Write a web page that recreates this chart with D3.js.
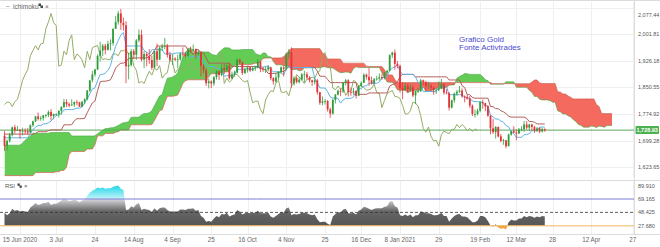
<!DOCTYPE html>
<html lang="en">
<head>
<meta charset="UTF-8">
<title>Grafico Gold - Ichimoku / RSI</title>
<script src="https://d3js.org/d3.v7.min.js"></script>
<style>
  body { margin: 0; background: #fff; }
  svg { display: block; font-family: "Liberation Sans", Arial, sans-serif; }
</style>
</head>
<body>
<svg width="660" height="247"></svg>
<script>
// daily candles, bar 0 = 5 Jun 2020
const open = [
  1713,1684,1698,1715,1737,1728,1730,1726,1727,1726,
  1722,1743,1754,1768,1761,1763,1771,1772,1781,1769,
  1775,1775,1784,1795,1809,1803,1799,1802,1809,1808,
  1796,1810,1817,1842,1871,1888,1902,1941,1956,1970,
  1958,1975,1977,2018,2038,2062,2035,2028,1911,1915,
  1954,1944,1985,2001,1930,1946,1940,1929,1907,1954,
  1930,1964,1968,1970,1944,1930,1933,1930,1931,1947,
  1946,1941,1956,1955,1960,1945,1950,1912,1900,1863,
  1868,1862,1880,1897,1886,1906,1900,1913,1877,1888,
  1893,1930,1922,1892,1902,1908,1899,1905,1907,1924,
  1904,1902,1902,1908,1877,1868,1879,1895,1908,1904,
  1947,1951,1862,1877,1866,1873,1888,1888,1879,1871,
  1866,1871,1837,1807,1811,1812,1788,1776,1815,1830,
  1841,1839,1864,1871,1838,1836,1840,1827,1855,1864,
  1887,1881,1871,1862,1874,1876,1880,1877,1893,1898,
  1943,1950,1918,1912,1849,1844,1855,1845,1851,1828,
  1840,1840,1871,1866,1855,1856,1850,1843,1844,1848,
  1860,1836,1834,1793,1814,1833,1838,1842,1825,1824,
  1819,1799,1775,1775,1784,1809,1806,1797,1770,1734,
  1723,1738,1711,1698,1700,1683,1716,1726,1722,1719,
  1731,1731,1745,1736,1745,1738,1727,1734,1725,1732
];
const high = [
  1727,1702,1721,1739,1744,1741,1732,1736,1734,1735,
  1745,1756,1769,1779,1769,1772,1775,1785,1789,1776,
  1777,1785,1797,1818,1817,1808,1817,1811,1815,1810,
  1812,1820,1843,1871,1898,1904,1945,1981,1975,1975,
  1984,1988,2019,2055,2069,2075,2050,2040,1950,1960,
  1960,1989,2016,2015,1954,1951,1960,1941,1955,1976,
  1968,1975,1992,1975,1952,1946,1937,1944,1951,1965,
  1952,1964,1967,1973,1962,1959,1955,1918,1906,1875,
  1871,1883,1900,1899,1917,1918,1920,1921,1896,1899,
  1933,1933,1925,1907,1913,1912,1912,1913,1932,1926,
  1909,1910,1914,1910,1880,1891,1897,1911,1911,1950,
  1960,1965,1883,1882,1880,1892,1898,1895,1883,1873,
  1877,1875,1838,1825,1818,1815,1793,1819,1832,1845,
  1848,1866,1875,1874,1850,1849,1843,1857,1868,1891,
  1890,1906,1882,1878,1884,1891,1889,1895,1901,1945,
  1953,1959,1926,1916,1865,1863,1862,1860,1856,1840,
  1850,1875,1873,1870,1867,1861,1854,1849,1868,1875,
  1861,1846,1837,1816,1836,1844,1855,1848,1828,1830,
  1826,1802,1787,1790,1811,1816,1807,1800,1771,1761,
  1740,1739,1718,1704,1700,1719,1727,1740,1731,1735,
  1740,1755,1755,1747,1747,1741,1738,1737,1735,1734
];
const low = [
  1670,1671,1693,1711,1719,1726,1705,1714,1717,1715,
  1720,1738,1752,1756,1756,1756,1765,1766,1757,1760,
  1770,1765,1773,1792,1795,1794,1799,1795,1800,1795,
  1795,1803,1814,1838,1865,1882,1900,1925,1940,1945,
  1956,1956,1970,2018,2030,2015,2013,1863,1874,1910,
  1932,1930,1980,1925,1906,1911,1918,1901,1905,1911,
  1929,1955,1960,1936,1925,1915,1926,1906,1927,1939,
  1936,1939,1950,1951,1933,1941,1882,1891,1855,1848,
  1849,1855,1873,1872,1883,1889,1896,1873,1874,1881,
  1891,1918,1886,1889,1893,1895,1897,1898,1905,1894,
  1895,1892,1897,1871,1859,1864,1872,1890,1882,1899,
  1933,1850,1856,1862,1862,1871,1865,1873,1865,1855,
  1859,1830,1801,1800,1802,1782,1764,1773,1805,1828,
  1826,1835,1856,1825,1827,1830,1819,1826,1851,1863,
  1873,1855,1859,1860,1870,1870,1872,1874,1888,1897,
  1935,1901,1905,1836,1817,1843,1836,1838,1823,1803,
  1835,1838,1858,1841,1846,1840,1830,1832,1840,1846,
  1830,1831,1785,1791,1807,1827,1835,1821,1808,1816,
  1792,1769,1765,1771,1780,1790,1783,1767,1717,1718,
  1705,1708,1694,1687,1677,1683,1713,1720,1700,1719,
  1726,1724,1730,1727,1728,1721,1723,1720,1722,1724
];
const close = [
  1684,1698,1715,1737,1728,1730,1726,1727,1726,1722,
  1743,1754,1768,1761,1763,1771,1772,1781,1769,1775,
  1775,1784,1795,1809,1803,1799,1802,1809,1808,1796,
  1810,1817,1842,1871,1888,1902,1941,1956,1970,1958,
  1975,1977,2018,2038,2062,2035,2028,1911,1915,1954,
  1944,1985,2001,1930,1946,1940,1929,1907,1954,1930,
  1964,1968,1970,1944,1930,1933,1930,1931,1947,1946,
  1941,1956,1955,1960,1945,1950,1912,1900,1863,1868,
  1862,1880,1897,1886,1906,1900,1913,1877,1888,1893,
  1930,1922,1892,1902,1908,1899,1905,1907,1924,1904,
  1902,1902,1908,1877,1868,1879,1895,1908,1904,1947,
  1951,1862,1877,1866,1873,1888,1888,1879,1871,1866,
  1871,1837,1807,1811,1812,1788,1776,1815,1830,1841,
  1839,1864,1871,1838,1836,1840,1827,1855,1864,1887,
  1881,1871,1862,1874,1876,1880,1877,1893,1898,1943,
  1950,1918,1912,1849,1844,1855,1845,1851,1828,1840,
  1840,1871,1866,1855,1856,1850,1843,1844,1848,1860,
  1836,1834,1793,1814,1833,1838,1842,1825,1824,1819,
  1799,1775,1775,1784,1809,1806,1797,1770,1734,1723,
  1738,1711,1698,1700,1683,1716,1726,1722,1719,1731,
  1731,1745,1736,1745,1738,1727,1734,1725,1732,1728.93
];

// conversion line (blue) and base line (brown), one value per candle
const tenkan = [
  1707,1707,1707,1707,1707,1707,1707,1707,1707,1707.5,
  1719,1730.5,1737,1742,1742,1746.5,1747,1750,1754.5,1763.5,
  1770.5,1772.5,1776.5,1787,1787.5,1787.5,1787.5,1789,1791.5,1791.5,
  1795.5,1806,1818.5,1832.5,1846.5,1849.5,1870,1888,1888,1892,
  1899,1913,1942,1968.5,1984.5,2000,2007.5,1969,1969,1969,
  1969,1969,1969,1969,1956.5,1951.5,1945,1958.5,1958.5,1958.5,
  1958.5,1958,1946.5,1946.5,1946.5,1946.5,1948.5,1949,1949,1949,
  1949,1940.5,1936.5,1939.5,1939.5,1939.5,1927.5,1927.5,1914,1910.5,
  1910.5,1910.5,1905,1903.5,1901.5,1883,1884,1884.5,1885,1888,
  1902.5,1902.5,1903,1903,1903,1903,1903.5,1907,1909.5,1909.5,
  1909,1910.5,1912,1901.5,1895.5,1895.5,1895.5,1892.5,1886.5,1904.5,
  1909.5,1907.5,1907.5,1907.5,1907.5,1907.5,1907.5,1907.5,1907.5,1907.5,
  1876.5,1864,1849.5,1849,1849,1838.5,1823.5,1820.5,1820.5,1819.5,
  1806,1815,1819.5,1819.5,1819.5,1824,1840,1847,1847,1855,
  1855,1862.5,1862.5,1862.5,1862.5,1866,1878.5,1880.5,1880.5,1900,
  1906,1909.5,1914.5,1897.5,1888,1888,1888,1888,1888,1881,
  1864.5,1859.5,1839,1839,1839,1839,1839,1839,1852.5,1852.5,
  1852.5,1852.5,1830,1830,1830,1830,1830,1830,1823,1820,
  1820,1812,1810,1810,1810,1806.5,1797.5,1797.5,1771.5,1766.5,
  1760.5,1760.5,1755,1751.5,1742,1738.5,1724,1719,1708.5,1708.5,
  1708.5,1716,1716,1719,1727.5,1727.5,1727.5,1737,1737.5,1737.5
];
const kijun = [
  1717.5,1717.5,1717.5,1717.5,1717.5,1717.5,1717.5,1717.5,1717.5,1717.5,
  1717.5,1717.5,1719.5,1724.5,1724.5,1724.5,1724.5,1727.5,1729.5,1729.5,
  1729.5,1729.5,1729.5,1744,1744,1744,1744.5,1755.5,1761.5,1761.5,
  1761.5,1762.5,1778.5,1793,1806.5,1812,1841.5,1866.5,1868.5,1868.5,
  1870,1872.5,1888,1906,1914.5,1920,1920,1924,1933.5,1934.5,
  1934.5,1935,1935,1935,1935,1935,1939,1944.5,1956.5,1969,
  1969,1969,1969,1969,1969,1969,1969,1969,1969,1969,
  1969,1956.5,1951.5,1945,1958.5,1958.5,1949,1949,1935,1920,
  1920,1920,1920,1920,1920,1920,1920,1920,1911.5,1910.5,
  1910.5,1910.5,1910.5,1910.5,1910.5,1910.5,1910.5,1910.5,1910.5,1905,
  1903.5,1901.5,1890.5,1890.5,1890.5,1891,1894,1896,1896,1904.5,
  1909.5,1907.5,1907.5,1907.5,1907.5,1907.5,1907.5,1907.5,1907.5,1907.5,
  1907.5,1897.5,1883,1882.5,1882.5,1873.5,1864.5,1864.5,1864.5,1864.5,
  1864.5,1864.5,1864.5,1864.5,1864.5,1864.5,1864.5,1831,1831,1831,
  1831,1835,1835,1835,1835,1835,1835,1835,1835,1854.5,
  1858.5,1861.5,1866,1882,1888,1888,1888,1888,1888,1881,
  1881,1881,1881,1881,1881,1881,1881,1881,1881,1881,
  1881,1881,1872,1872,1872,1872,1872,1855.5,1850.5,1830,
  1830,1822,1820,1820,1820,1820,1820,1820,1796,1796,
  1790,1790,1784.5,1781,1776,1769,1766,1766,1766,1766,
  1766,1766,1762.5,1753.5,1753.5,1751.5,1746.5,1746.5,1746.5,1746.5
];

// leading spans, already displaced 26 bars forward (bar 0..235)
const spanA = [
  1686,1686,1686,1686,1686,1686,1686,1692,1700,1706,
  1712,1720,1720,1720,1720,1720,1720,1720,1722,1722,
  1722,1722,1722,1722,1722,1722,1712.25,1712.25,1712.25,1712.25,
  1712.25,1712.25,1712.25,1712.25,1712.25,1712.5,1718.25,1724,1728.25,1733.25,
  1733.25,1735.5,1735.75,1738.75,1742,1746.5,1750,1751,1753,1765.5,
  1765.75,1765.75,1766,1772.25,1776.5,1776.5,1778.5,1784.25,1798.5,1812.75,
  1826.5,1830.75,1855.75,1877.25,1878.25,1880.25,1884.5,1892.75,1915,1937.25,
  1949.5,1960,1963.75,1946.5,1951.25,1951.75,1951.75,1952,1952,1952,
  1945.75,1943.25,1942,1951.5,1957.5,1963.75,1963.75,1963.5,1957.75,1957.75,
  1957.75,1957.75,1958.75,1959,1959,1959,1959,1948.5,1944,1942.25,
  1949,1949,1938.25,1938.25,1924.5,1915.25,1915.25,1915.25,1912.5,1911.75,
  1910.75,1901.5,1902,1902.25,1898.25,1899.25,1906.5,1906.5,1906.75,1906.75,
  1906.75,1906.75,1907,1908.75,1910,1907.25,1906.25,1906,1901.25,1896,
  1893,1893.25,1894.75,1894.25,1891.25,1904.5,1909.5,1907.5,1907.5,1907.5,
  1907.5,1907.5,1907.5,1907.5,1907.5,1907.5,1892,1880.75,1866.25,1865.75,
  1865.75,1856,1844,1842.5,1842.5,1842,1835.25,1839.75,1842,1842,
  1842,1844.25,1852.25,1839,1839,1843,1843,1848.75,1848.75,1848.75,
  1848.75,1850.5,1856.75,1857.75,1857.75,1877.25,1882.25,1885.5,1890.25,1889.75,
  1888,1888,1888,1888,1888,1881,1872.75,1870.25,1860,1860,
  1860,1860,1860,1860,1866.75,1866.75,1866.75,1866.75,1851,1851,
  1851,1851,1851,1842.75,1836.75,1825,1825,1817,1815,1815,
  1815,1813.25,1808.75,1808.75,1783.75,1781.25,1775.25,1775.25,1769.75,1766.25,
  1759,1753.75,1745,1742.5,1737.25,1737.25,1737.25,1741,1739.25,1736.25,
  1740.5,1739.5,1737,1741.75,1742,1742
];
const spanB = [
  1599,1599,1599,1599,1599,1599,1599,1599,1599,1599,
  1599,1599,1608,1608,1608,1608,1608,1608,1608,1608,
  1610,1610,1614,1614,1623.5,1659,1668,1668,1668,1668,
  1668,1668,1675,1675,1675,1688,1712.5,1712.5,1712.5,1719.5,
  1719.5,1719.5,1719.5,1722.5,1724.5,1729.5,1729.5,1729.5,1729.5,1744,
  1744,1744,1744,1744,1744,1744,1744,1745,1756.5,1770.5,
  1784,1787,1807.5,1825.5,1825.5,1825.5,1827,1829,1844.5,1862.5,
  1869.5,1872.5,1872.5,1872.5,1872.5,1872.5,1872.5,1872.5,1873,1884,
  1890,1890,1890,1890,1894.5,1895,1895,1897.5,1906.5,1913.5,
  1915.5,1915.5,1915.5,1916,1916,1916,1917.5,1920,1920,1924,
  1933.5,1934.5,1934.5,1935,1935,1935,1935,1935,1939,1944.5,
  1956.5,1961.5,1961.5,1961.5,1961.5,1961.5,1961.5,1961.5,1961.5,1961.5,
  1961.5,1961.5,1961.5,1949,1944,1932,1932,1932,1932,1932,
  1931.5,1920,1920,1920,1920,1920,1920,1920,1920,1920,
  1911.5,1910.5,1910.5,1910.5,1910.5,1910.5,1910.5,1901.5,1887,1886.5,
  1886.5,1873.5,1864.5,1864.5,1864.5,1864.5,1864.5,1864.5,1864.5,1864.5,
  1864.5,1864.5,1864.5,1864.5,1864.5,1864.5,1864.5,1864.5,1864.5,1864.5,
  1864.5,1864.5,1864.5,1864.5,1864.5,1864.5,1864.5,1864.5,1864.5,1864.5,
  1864.5,1864.5,1864.5,1864.5,1864.5,1864.5,1864.5,1864.5,1864.5,1861.5,
  1861.5,1861.5,1861.5,1861.5,1861.5,1861.5,1861.5,1861.5,1861.5,1861.5,
  1861.5,1861.5,1861.5,1861.5,1866,1872,1872,1864,1862,1862,
  1862,1862,1862,1862,1838,1838,1832,1832,1826.5,1823,
  1818,1818,1818,1818,1818,1818,1818,1818,1818,1801.5,
  1796.5,1776,1776,1776,1776,1776
];

const rsi = [
  48,44,47,54,51,52,50,51,50,49,
  56,59,63,60,61,63,63,65,60,62,
  62,64,67,70,68,66,67,68,67,64,
  67,68,74,79,82,84,87,86,87,85,
  86,86,88,89,90,85,83,52,53,58,
  56,61,63,52,54,53,52,49,55,51,
  55,56,56,52,50,50,50,50,53,53,
  52,54,54,55,51,52,43,40,34,35,
  34,39,43,41,46,45,48,42,44,45,
  52,50,45,47,48,47,48,48,51,47,
  47,47,48,42,40,43,46,49,48,55,
  56,44,46,45,46,48,48,47,45,44,
  45,38,33,34,34,31,29,42,46,49,
  48,53,54,47,47,48,45,51,53,57,
  56,54,52,54,55,55,55,57,58,65,
  66,58,56,44,43,45,43,45,41,44,
  44,50,49,47,47,46,44,44,45,48,
  43,43,34,39,43,45,46,42,42,41,
  37,33,33,36,43,43,41,35,28,26,
  30,25,23,24,22,33,37,36,36,39,
  39,43,41,43,42,40,42,41,43,42
];

const dateTicks  = [6, 20, 35, 50, 65, 80, 94, 109, 124, 138, 153, 168, 184, 198, 212, 227, 243];
const dateLabels = ["15 Jun 2020", "3 Jul", "24", "14 Aug", "4 Sep", "25", "16 Oct", "4 Nov",
                    "25", "16 Dec", "8 Jan 2021", "29", "19 Feb", "12 Mar", "28", "12 Apr", "27"];
const priceTicks = [2077.44, 2001.81, 1926.18, 1850.55, 1774.92, 1699.28, 1623.65];
const rsiTicks = [89.91, 69.165, 48.425, 27.68];
const rsiLevels = { high: 69.165, mid: 48.425, low: 27.68 };
const lastPrice = 1728.93;
const lag = 26;

// layout
const axisX = 634;
const mainTop = 2, mainBottom = 177;
const rsiTop = 181, rsiBottom = 234;

const svg = d3.select("svg");
const defs = svg.append("defs");

const x = d3.scaleLinear().domain([0, 235]).range([4.5, 612]);
const y = d3.scaleLinear().domain([1623.65, 2077.44]).range([167, 8]);
const ry = d3.scaleLinear().domain([27.68, 89.91]).range([225.8, 185.6]);

const fmtPrice = d3.format(",.2f");
const fmtRsi = d3.format(".3f");

svg.append("rect").attr("width", 660).attr("height", 247).attr("fill", "#fff");

// clip paths
defs.append("clipPath").attr("id", "clipMain")
  .append("rect").attr("x", 0).attr("y", mainTop).attr("width", axisX).attr("height", mainBottom - mainTop);
defs.append("clipPath").attr("id", "clipRsi")
  .append("rect").attr("x", 0).attr("y", rsiTop).attr("width", axisX).attr("height", rsiBottom - rsiTop);

// grid
const grid = svg.append("g").attr("stroke", "#efefef").attr("stroke-width", 1);
grid.selectAll(".gx").data(dateTicks.filter(d => x(d) < axisX)).join("line")
  .attr("x1", d => Math.round(x(d)) + 0.5).attr("x2", d => Math.round(x(d)) + 0.5)
  .attr("y1", mainTop).attr("y2", mainBottom);
grid.selectAll(".gxr").data(dateTicks.filter(d => x(d) < axisX)).join("line")
  .attr("x1", d => Math.round(x(d)) + 0.5).attr("x2", d => Math.round(x(d)) + 0.5)
  .attr("y1", rsiTop).attr("y2", rsiBottom);
grid.selectAll(".gy").data(priceTicks).join("line")
  .attr("x1", 0).attr("x2", axisX)
  .attr("y1", d => Math.round(y(d)) + 0.5).attr("y2", d => Math.round(y(d)) + 0.5);

// ---- main panel ----
const mainG = svg.append("g").attr("clip-path", "url(#clipMain)");
const spanIdx = d3.range(spanA.length);

defs.append("clipPath").attr("id", "aboveB").append("path")
  .attr("d", d3.area().x(j => x(j)).y0(j => y(spanB[j])).y1(-10)(spanIdx));
defs.append("clipPath").attr("id", "belowB").append("path")
  .attr("d", d3.area().x(j => x(j)).y0(j => y(spanB[j])).y1(300)(spanIdx));

const cloud = d3.area().x(j => x(j)).y0(j => y(spanB[j])).y1(j => y(spanA[j]));
mainG.append("path").attr("d", cloud(spanIdx)).attr("fill", "#63cc55")
  .attr("clip-path", "url(#aboveB)");
mainG.append("path").attr("d", cloud(spanIdx)).attr("fill", "#f46a5e")
  .attr("clip-path", "url(#belowB)");

const spanLine = arr => d3.line().x(j => x(j)).y(j => y(arr[j]))(spanIdx);
mainG.append("path").attr("d", spanLine(spanA)).attr("fill", "none")
  .attr("stroke", "#3f9f3a").attr("stroke-width", 0.7).attr("opacity", 0.8);
mainG.append("path").attr("d", spanLine(spanB)).attr("fill", "none")
  .attr("stroke", "#c9483f").attr("stroke-width", 0.7).attr("opacity", 0.8);

// last price line
mainG.append("line").attr("x1", 0).attr("x2", axisX)
  .attr("y1", y(lastPrice)).attr("y2", y(lastPrice))
  .attr("stroke", "#5aa85a").attr("stroke-width", 1);

// lagging span: closes drawn 26 bars back
const bars = d3.range(close.length);
const chikou = bars.filter(i => i >= lag);
mainG.append("path")
  .attr("d", d3.line().x(i => x(i - lag)).y(i => y(close[i]))(chikou))
  .attr("fill", "none").attr("stroke", "#93ad66").attr("stroke-width", 1);

mainG.append("path")
  .attr("d", d3.line().x(i => x(i)).y(i => y(kijun[i]))(bars))
  .attr("fill", "none").attr("stroke", "#b35f5c").attr("stroke-width", 1);
mainG.append("path")
  .attr("d", d3.line().x(i => x(i)).y(i => y(tenkan[i]))(bars))
  .attr("fill", "none").attr("stroke", "#5fb2e6").attr("stroke-width", 1);

// candles
const bull = "#2f9e3a", bear = "#e3333b";
const colour = i => close[i] >= open[i] ? bull : bear;
mainG.selectAll(".wick").data(bars).join("line")
  .attr("x1", i => x(i)).attr("x2", i => x(i))
  .attr("y1", i => y(high[i])).attr("y2", i => y(low[i]))
  .attr("stroke", colour).attr("stroke-width", 0.8);
mainG.selectAll(".body").data(bars).join("rect")
  .attr("x", i => x(i) - 0.9).attr("width", 1.8)
  .attr("y", i => y(Math.max(open[i], close[i])))
  .attr("height", i => Math.max(0.8, Math.abs(y(open[i]) - y(close[i]))))
  .attr("fill", colour);

// note
const note = svg.append("g").attr("fill", "#4b4bd0").attr("font-size", 8);
note.append("text").attr("x", 459).attr("y", 42).text("Grafico Gold");
note.append("text").attr("x", 459).attr("y", 50).text("Fonte Activtrades");

// panel header
const hdr = svg.append("g").attr("fill", "#666").attr("font-size", 6.5);
hdr.append("text").attr("x", 6).attr("y", 8.5).text("\u2212");
hdr.append("text").attr("x", 13).attr("y", 8.5).text("ichimoku");
hdr.append("rect").attr("x", 38.5).attr("y", 3.5).attr("width", 2.5).attr("height", 2.5).attr("fill", "#444");
hdr.append("rect").attr("x", 40.5).attr("y", 5.5).attr("width", 2.5).attr("height", 2.5).attr("fill", "#444");
hdr.append("text").attr("x", 45).attr("y", 8.5).text("\u00d7");

// ---- RSI panel ----
const rsiG = svg.append("g").attr("clip-path", "url(#clipRsi)");

const gGray = defs.append("linearGradient").attr("id", "rsiGray")
  .attr("gradientUnits", "userSpaceOnUse").attr("x1", 0).attr("x2", 0)
  .attr("y1", ry(rsiLevels.high)).attr("y2", ry(rsiLevels.low));
gGray.append("stop").attr("offset", 0).attr("stop-color", "#d8d8de");
gGray.append("stop").attr("offset", 0.45).attr("stop-color", "#666");
gGray.append("stop").attr("offset", 1).attr("stop-color", "#555");

const gCyan = defs.append("linearGradient").attr("id", "rsiCyan")
  .attr("gradientUnits", "userSpaceOnUse").attr("x1", 0).attr("x2", 0)
  .attr("y1", ry(89.91)).attr("y2", ry(rsiLevels.high));
gCyan.append("stop").attr("offset", 0).attr("stop-color", "#1fd6e8");
gCyan.append("stop").attr("offset", 1).attr("stop-color", "#c6f5f9");

const bands = [
  { id: "bandHi", y0: rsiTop, y1: ry(rsiLevels.high), fill: "url(#rsiCyan)" },
  { id: "bandMid", y0: ry(rsiLevels.high), y1: ry(rsiLevels.low), fill: "url(#rsiGray)" },
  { id: "bandLo", y0: ry(rsiLevels.low), y1: rsiBottom, fill: "#f2a33a" }
];
const rsiArea = d3.area().x(i => x(i)).y0(ry(rsiLevels.low)).y1(i => ry(rsi[i]));
bands.forEach(b => {
  defs.append("clipPath").attr("id", b.id).append("rect")
    .attr("x", 0).attr("y", b.y0).attr("width", axisX).attr("height", b.y1 - b.y0);
  rsiG.append("path").attr("d", rsiArea(bars)).attr("fill", b.fill)
    .attr("clip-path", `url(#${b.id})`);
});

rsiG.append("line").attr("x1", 0).attr("x2", axisX)
  .attr("y1", ry(rsiLevels.high)).attr("y2", ry(rsiLevels.high))
  .attr("stroke", "#7b7bd6").attr("stroke-width", 1);
rsiG.append("line").attr("x1", 0).attr("x2", axisX)
  .attr("y1", ry(rsiLevels.mid)).attr("y2", ry(rsiLevels.mid))
  .attr("stroke", "#333").attr("stroke-width", 0.8).attr("stroke-dasharray", "3,2");
rsiG.append("line").attr("x1", 0).attr("x2", axisX)
  .attr("y1", ry(rsiLevels.low)).attr("y2", ry(rsiLevels.low))
  .attr("stroke", "#f2b560").attr("stroke-width", 1);

const rh = svg.append("g").attr("fill", "#555").attr("font-size", 6);
rh.append("text").attr("x", 5).attr("y", 188).text("RSI");
rh.append("rect").attr("x", 17.5).attr("y", 183.5).attr("width", 2.3).attr("height", 2.3).attr("fill", "#444");
rh.append("rect").attr("x", 19.5).attr("y", 185.5).attr("width", 2.3).attr("height", 2.3).attr("fill", "#444");
rh.append("text").attr("x", 24).attr("y", 188).text("\u00d7");

// frame lines
const frame = svg.append("g").attr("stroke", "#dcdcdc").attr("stroke-width", 1);
frame.append("line").attr("x1", 0).attr("x2", 660).attr("y1", 0.5).attr("y2", 0.5);
frame.append("line").attr("x1", 0).attr("x2", 660).attr("y1", 180.5).attr("y2", 180.5);
frame.append("line").attr("x1", 0).attr("x2", 660).attr("y1", rsiBottom + 0.5).attr("y2", rsiBottom + 0.5);
frame.append("line").attr("x1", axisX + 0.5).attr("x2", axisX + 0.5).attr("y1", 0).attr("y2", rsiBottom);

// price axis
const pa = svg.append("g").attr("font-size", 5.5).attr("fill", "#555");
pa.selectAll("text").data(priceTicks).join("text")
  .attr("x", 638).attr("y", d => Math.max(y(d), 15) + 2).text(d => fmtPrice(d));

const tag = svg.append("g");
tag.append("rect").attr("x", 635.5).attr("y", y(lastPrice) - 4).attr("width", 23.5).attr("height", 8)
  .attr("rx", 1).attr("fill", "#4caf50");
tag.append("text").attr("x", 636.5).attr("y", y(lastPrice) + 2).attr("font-size", 5.5)
  .attr("font-weight", "bold").attr("fill", "#fff").text(fmtPrice(lastPrice));

// rsi axis
svg.append("g").attr("font-size", 5.5).attr("fill", "#555")
  .selectAll("text").data(rsiTicks).join("text")
  .attr("x", 638).attr("y", d => ry(d) + 2).text(d => fmtRsi(d));

// time axis
svg.append("g").attr("font-size", 6.3).attr("fill", "#666").attr("text-anchor", "middle")
  .selectAll("text").data(dateTicks).join("text")
  .attr("x", d => x(d)).attr("y", 242).text((d, k) => dateLabels[k]);
</script>
</body>
</html>
